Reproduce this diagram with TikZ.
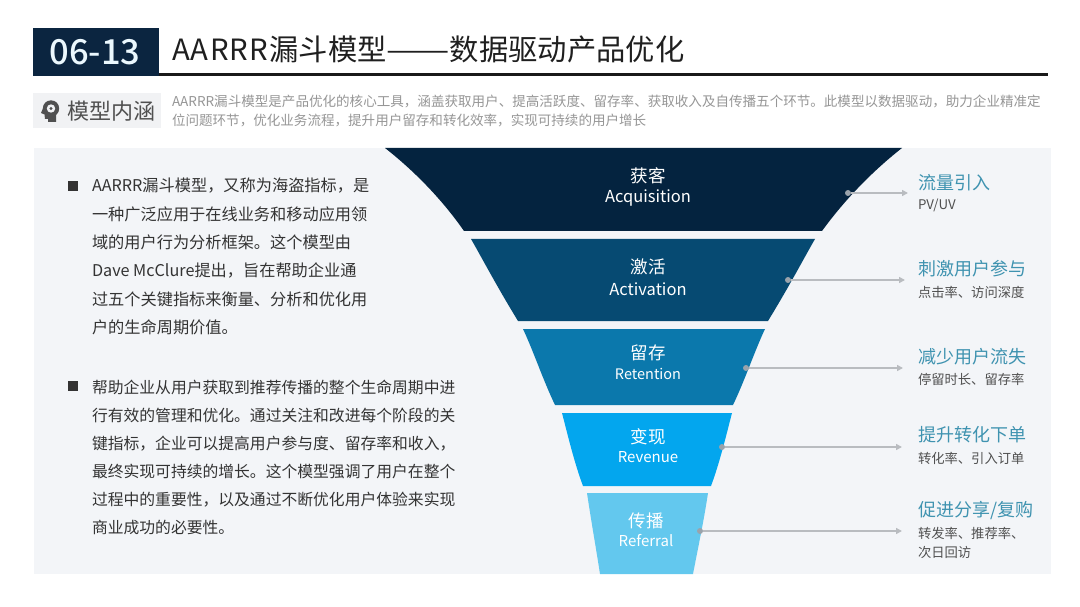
\documentclass[tikz,border=0pt]{standalone}
\usepackage{fontspec}
\usepackage{graphicx}
\setmainfont{Noto Sans CJK SC}
\newfontfamily\numfont{Noto Sans CJK SC Medium}
\usetikzlibrary{arrows.meta}
\definecolor{navy}{HTML}{0B2540}
\definecolor{panel}{HTML}{F3F5F8}
\definecolor{tagbg}{HTML}{F1F2F4}
\definecolor{descgray}{HTML}{969696}
\definecolor{headteal}{HTML}{3F93B0}
\definecolor{subgray}{HTML}{505050}
\definecolor{bodyblack}{HTML}{333333}
\definecolor{fa}{HTML}{04233F}
\definecolor{fb}{HTML}{064A72}
\definecolor{fc}{HTML}{0B78AC}
\definecolor{fd}{HTML}{03A6EE}
\definecolor{fe}{HTML}{63C8EE}
\definecolor{linkgray}{HTML}{B9BCC0}
\definecolor{dotgray}{HTML}{9AA3AB}
\newcommand{\fs}[1]{\fontsize{#1}{#1}\selectfont}
\tikzset{
  x=1pt,y=-1pt,
  lbl/.style={inner sep=0,outer sep=0,anchor=west},
  body/.style={lbl,text=bodyblack,font=\fs{16.2}},
  bodyb/.style={lbl,text=bodyblack,font=\fs{15.8}},
  fcn/.style={inner sep=0,text=white,font=\fs{17.5}},
  fen/.style={inner sep=0,text=white,font=\fs{16.5}},
  head/.style={lbl,text=headteal,font=\fs{18}},
  sub/.style={lbl,text=subgray,font=\fs{13.3}},
  desc/.style={lbl,text=descgray,font=\fs{13.55}},
  link/.style={draw=linkgray,line width=1.5pt,-{Triangle[length=6pt,width=6pt]}},
  dot/.style={circle,fill=dotgray,inner sep=0,minimum size=6pt},
}
\begin{document}
\begin{tikzpicture}
\useasboundingbox (0,0) rectangle (1080,607);
\fill[white] (0,0) rectangle (1080,607);
% header
\fill[navy] (33,28) rectangle (159,76);
\fill[black!90] (159,73) rectangle (1048,76);
\node[inner sep=0,text=white!92!cyan,font=\fs{34.5}\numfont] (num) at (95,52) {06-13};
\node[lbl,text=black!88,font=\fs{29.3}] (title) at (172,49) {A\kern1.2ptA\kern1.2ptR\kern1.2ptR\kern1.2ptR\kern1.2pt漏斗模型\scalebox{1.29}[1]{——}数据驱动产品优化};
% tag
\fill[tagbg] (33,93) rectangle (161,128);
\fill[subgray] (51,108.5) circle (8.2);
\fill[subgray] (44,106) -- (41,113) -- (44.5,114.5) -- (45,119) -- (48,119) -- (48,122) -- (56,122) -- (56,114) -- cycle;
\fill[tagbg] (51,108.5) circle (4.2);
\fill[subgray] (51,108.5) circle (1.6);
\node[lbl,text=subgray,font=\fs{22}] (tag) at (67,111) {模型内涵};
\node[desc] (d1) at (172,101.5) {AARRR漏斗模型是产品优化的核心工具，涵盖获取用户、提高活跃度、留存率、获取收入及自传播五个环节。此模型以数据驱动，助力企业精准定};
\node[desc] (d2) at (172,120.5) {位问题环节，优化业务流程，提升用户留存和转化效率，实现可持续的用户增长};
% panel
\fill[panel] (34,148) rectangle (1051,574);
% left text
\fill[bodyblack] (68,181) rectangle (78,191);
\node[body] at (92,186) {AARRR漏斗模型，又称为海盗指标，是};
\node[body] at (92,214.5) {一种广泛应用于在线业务和移动应用领};
\node[body] at (92,242.5) {域的用户行为分析框架。这个模型由};
\node[body] at (92,270.5) {Dave McClure提出，旨在帮助企业通};
\node[body] at (92,299) {过五个关键指标来衡量、分析和优化用};
\node[body] at (92,327) {户的生命周期价值。};
\fill[bodyblack] (68,381) rectangle (78,391);
\node[bodyb] at (92,387) {帮助企业从用户获取到推荐传播的整个生命周期中进};
\node[bodyb] at (92,415) {行有效的管理和优化。通过关注和改进每个阶段的关};
\node[bodyb] at (92,443.5) {键指标，企业可以提高用户参与度、留存率和收入，};
\node[bodyb] at (92,471.5) {最终实现可持续的增长。这个模型强调了用户在整个};
\node[bodyb] at (92,499.5) {过程中的重要性，以及通过不断优化用户体验来实现};
\node[bodyb] at (92,528) {商业成功的必要性。};
% funnel
\fill[fa] (385,148) -- (902,148) .. controls (874,170) and (846,198) .. (822,231) -- (464,231) .. controls (441,198) and (413,170) .. cycle;
\fill[fb] (471,239) -- (815,239) .. controls (804,258) and (790,285) .. (768,321) -- (518,321) .. controls (496,285) and (482,258) .. cycle;
\fill[fc] (523,329) -- (765,329) .. controls (755,350) and (745,380) .. (733,405) -- (555,405) .. controls (543,380) and (533,350) .. cycle;
\fill[fd] (562,413) -- (732,413) .. controls (727,432) and (720,462) .. (711,486) -- (583,486) .. controls (574,462) and (567,432) .. cycle;
\fill[fe] (587,493) -- (708,493) .. controls (704,520) and (698,548) .. (693,574) -- (600,574) .. controls (596,548) and (591,520) .. cycle;
\node[fcn] at (648,176) {获客};
\node[fen] at (648,198) {Acquisition};
\node[fcn] at (648,267) {激活};
\node[fen] at (648,289.5) {Activation};
\node[fcn] at (648,353) {留存};
\node[fen,font=\fs{14.5}] at (648,374) {Retention};
\node[fcn] at (648,437) {变现};
\node[fen,font=\fs{15}] at (648,457) {Revenue};
\node[fcn] at (646,521) {传播};
\node[fen,font=\fs{15}] at (646,541) {Referral};
% connectors
\node[dot] (a1) at (848,193) {};
\node[dot] (a2) at (788,280) {};
\node[dot] (a3) at (746,368) {};
\node[dot] (a4) at (722,447) {};
\node[dot] (a5) at (700,531) {};
\coordinate (b1) at (908,193);
\coordinate (b2) at (905,280);
\coordinate (b3) at (903,368);
\coordinate (b4) at (902,447);
\coordinate (b5) at (902,531);
\foreach \i in {1,...,5} \draw[link] (a\i) -- (b\i);
% right labels
\node[head] at (918,183) {流量引入};
\node[sub] at (918,205) {PV/UV};
\node[head] at (918,269) {刺激用户参与};
\node[sub] at (918,292) {点击率、访问深度};
\node[head] at (918,357) {减少用户流失};
\node[sub] at (918,379) {停留时长、留存率};
\node[head] at (918,435) {提升转化下单};
\node[sub] at (918,458) {转化率、引入订单};
\node[head] at (918,510) {促进分享/复购};
\node[sub] at (918,533) {转发率、推荐率、};
\node[sub] at (918,552) {次日回访};
\end{tikzpicture}
\end{document}
